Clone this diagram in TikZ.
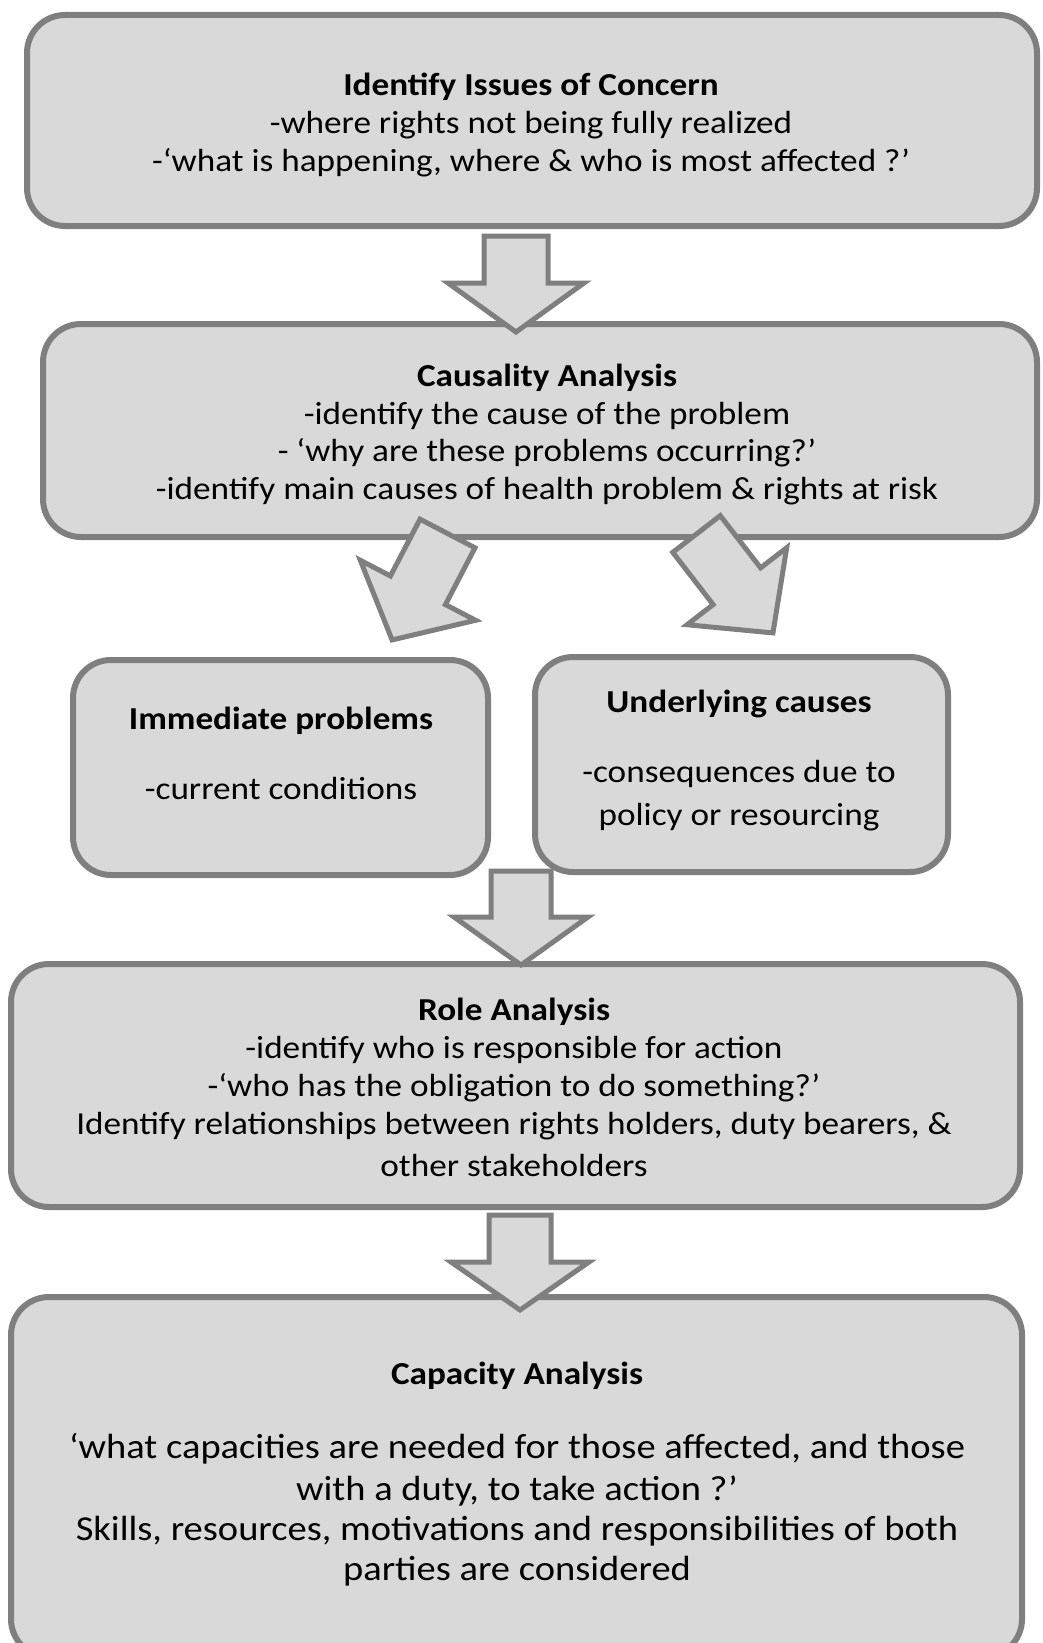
\documentclass[tikz,border=0pt]{standalone}
\usepackage{fontspec}
\setmainfont{Carlito}[FakeStretch=1.1]
\definecolor{boxfill}{RGB}{217,217,217}
\definecolor{boxedge}{RGB}{127,127,127}
\tikzset{
  stagebox/.style={draw=boxedge, fill=boxfill, line width=6pt,
    rounded corners=38pt, inner sep=0pt, outer sep=0pt},
  stagetext/.style={inner sep=0pt, align=center, text=black,
    font=\fontsize{32}{37.5}\selectfont},
  blockarrow/.style={draw=boxedge, fill=boxfill, line width=5pt, line join=miter}
}
% hollow block arrow: tail centre at the origin, pointing towards +y (down)
% #1 shaft half width, #2 shaft length, #3 head half width, #4 total length
\newcommand\flowarrow[4]{%
  \draw[blockarrow] (-#1,0) -- (#1,0) -- (#1,#2) -- (#3,#2) -- (0,#4)
    -- (-#3,#2) -- (-#1,#2) -- cycle;}
\begin{document}
\begin{tikzpicture}[x=1pt,y=-1pt]
\useasboundingbox (0,0) rectangle (1043,1643);
\clip (0,0) rectangle (1043,1643);

% stage boxes
\node[stagebox, minimum width=1010pt, minimum height=211pt] (issues)   at (532,120.5) {};
\node[stagebox, minimum width=994pt,  minimum height=213pt] (causal)   at (540,430.5) {};
\node[stagebox, minimum width=415pt,  minimum height=215pt] (immed)    at (280.5,767.5) {};
\node[stagebox, minimum width=413pt,  minimum height=215pt] (underly)  at (741.5,764.5) {};
\node[stagebox, minimum width=1009pt, minimum height=243pt] (role)     at (515.5,1085.5) {};
\node[stagebox, minimum width=1011pt, minimum height=360pt] (capacity) at (516.5,1477) {};

% texts
\node[stagetext] (issuesT) at (531,126) {\strut\textbf{Identify Issues of Concern}\\
  \strut-where rights not being fully realized\\
  \strut-‘what is happening, where \& who is most affected ?’};
\node[stagetext, font=\fontsize{32}{37.7}\selectfont] (causalT) at (547,435.5) {\strut\textbf{Causality Analysis}\\
  \strut-identify the cause of the problem\\
  \strut- ‘why are these problems occurring?’\\
  \strut-identify main causes of health problem \& rights at risk};
\node[stagetext, font=\fontsize{32}{35}\selectfont] (immedT) at (281,757) {\strut\textbf{Immediate problems}\\[35pt]
  \strut-current conditions};
\node[stagetext, font=\fontsize{32}{35}\selectfont] (underlyT) at (739,761.5) {\strut\textbf{Underlying causes}\\[35pt]
  \strut-consequences due to\\[8pt]
  \strut policy or resourcing};
\node[stagetext, font=\fontsize{32}{38}\selectfont] (roleT) at (514,1091) {\strut\textbf{Role Analysis}\\
  \strut-identify who is responsible for action\\
  \strut-‘who has the obligation to do something?’\\
  \strut Identify relationships between rights holders, duty bearers, \&\\[4pt]
  \strut other stakeholders};
\node[stagetext, font=\fontsize{35}{40}\selectfont] (capacityT) at (517,1474.5) {\strut{\fontsize{32}{40}\selectfont\textbf{Capacity Analysis}}\\[34pt]
  \strut‘what capacities are needed for those affected, and those\\[2pt]
  \strut with a duty, to take action ?’\\
  \strut Skills, resources, motivations and responsibilities of both\\
  \strut parties are considered};

% block arrows between the stages
\begin{scope}[shift={(516,236)}]\flowarrow{32}{47}{68}{96}\end{scope}
\begin{scope}[shift={(447.5,533.5)}, rotate=-27.5]\flowarrow{31}{64}{65}{120}\end{scope}
\begin{scope}[shift={(696.5,534)}, rotate=37.7]\flowarrow{30}{66}{63}{125}\end{scope}
\begin{scope}[shift={(521,871)}]\flowarrow{30}{46}{67}{94}\end{scope}
\begin{scope}[shift={(520,1215)}]\flowarrow{31}{47}{69}{95}\end{scope}
\end{tikzpicture}
\end{document}
